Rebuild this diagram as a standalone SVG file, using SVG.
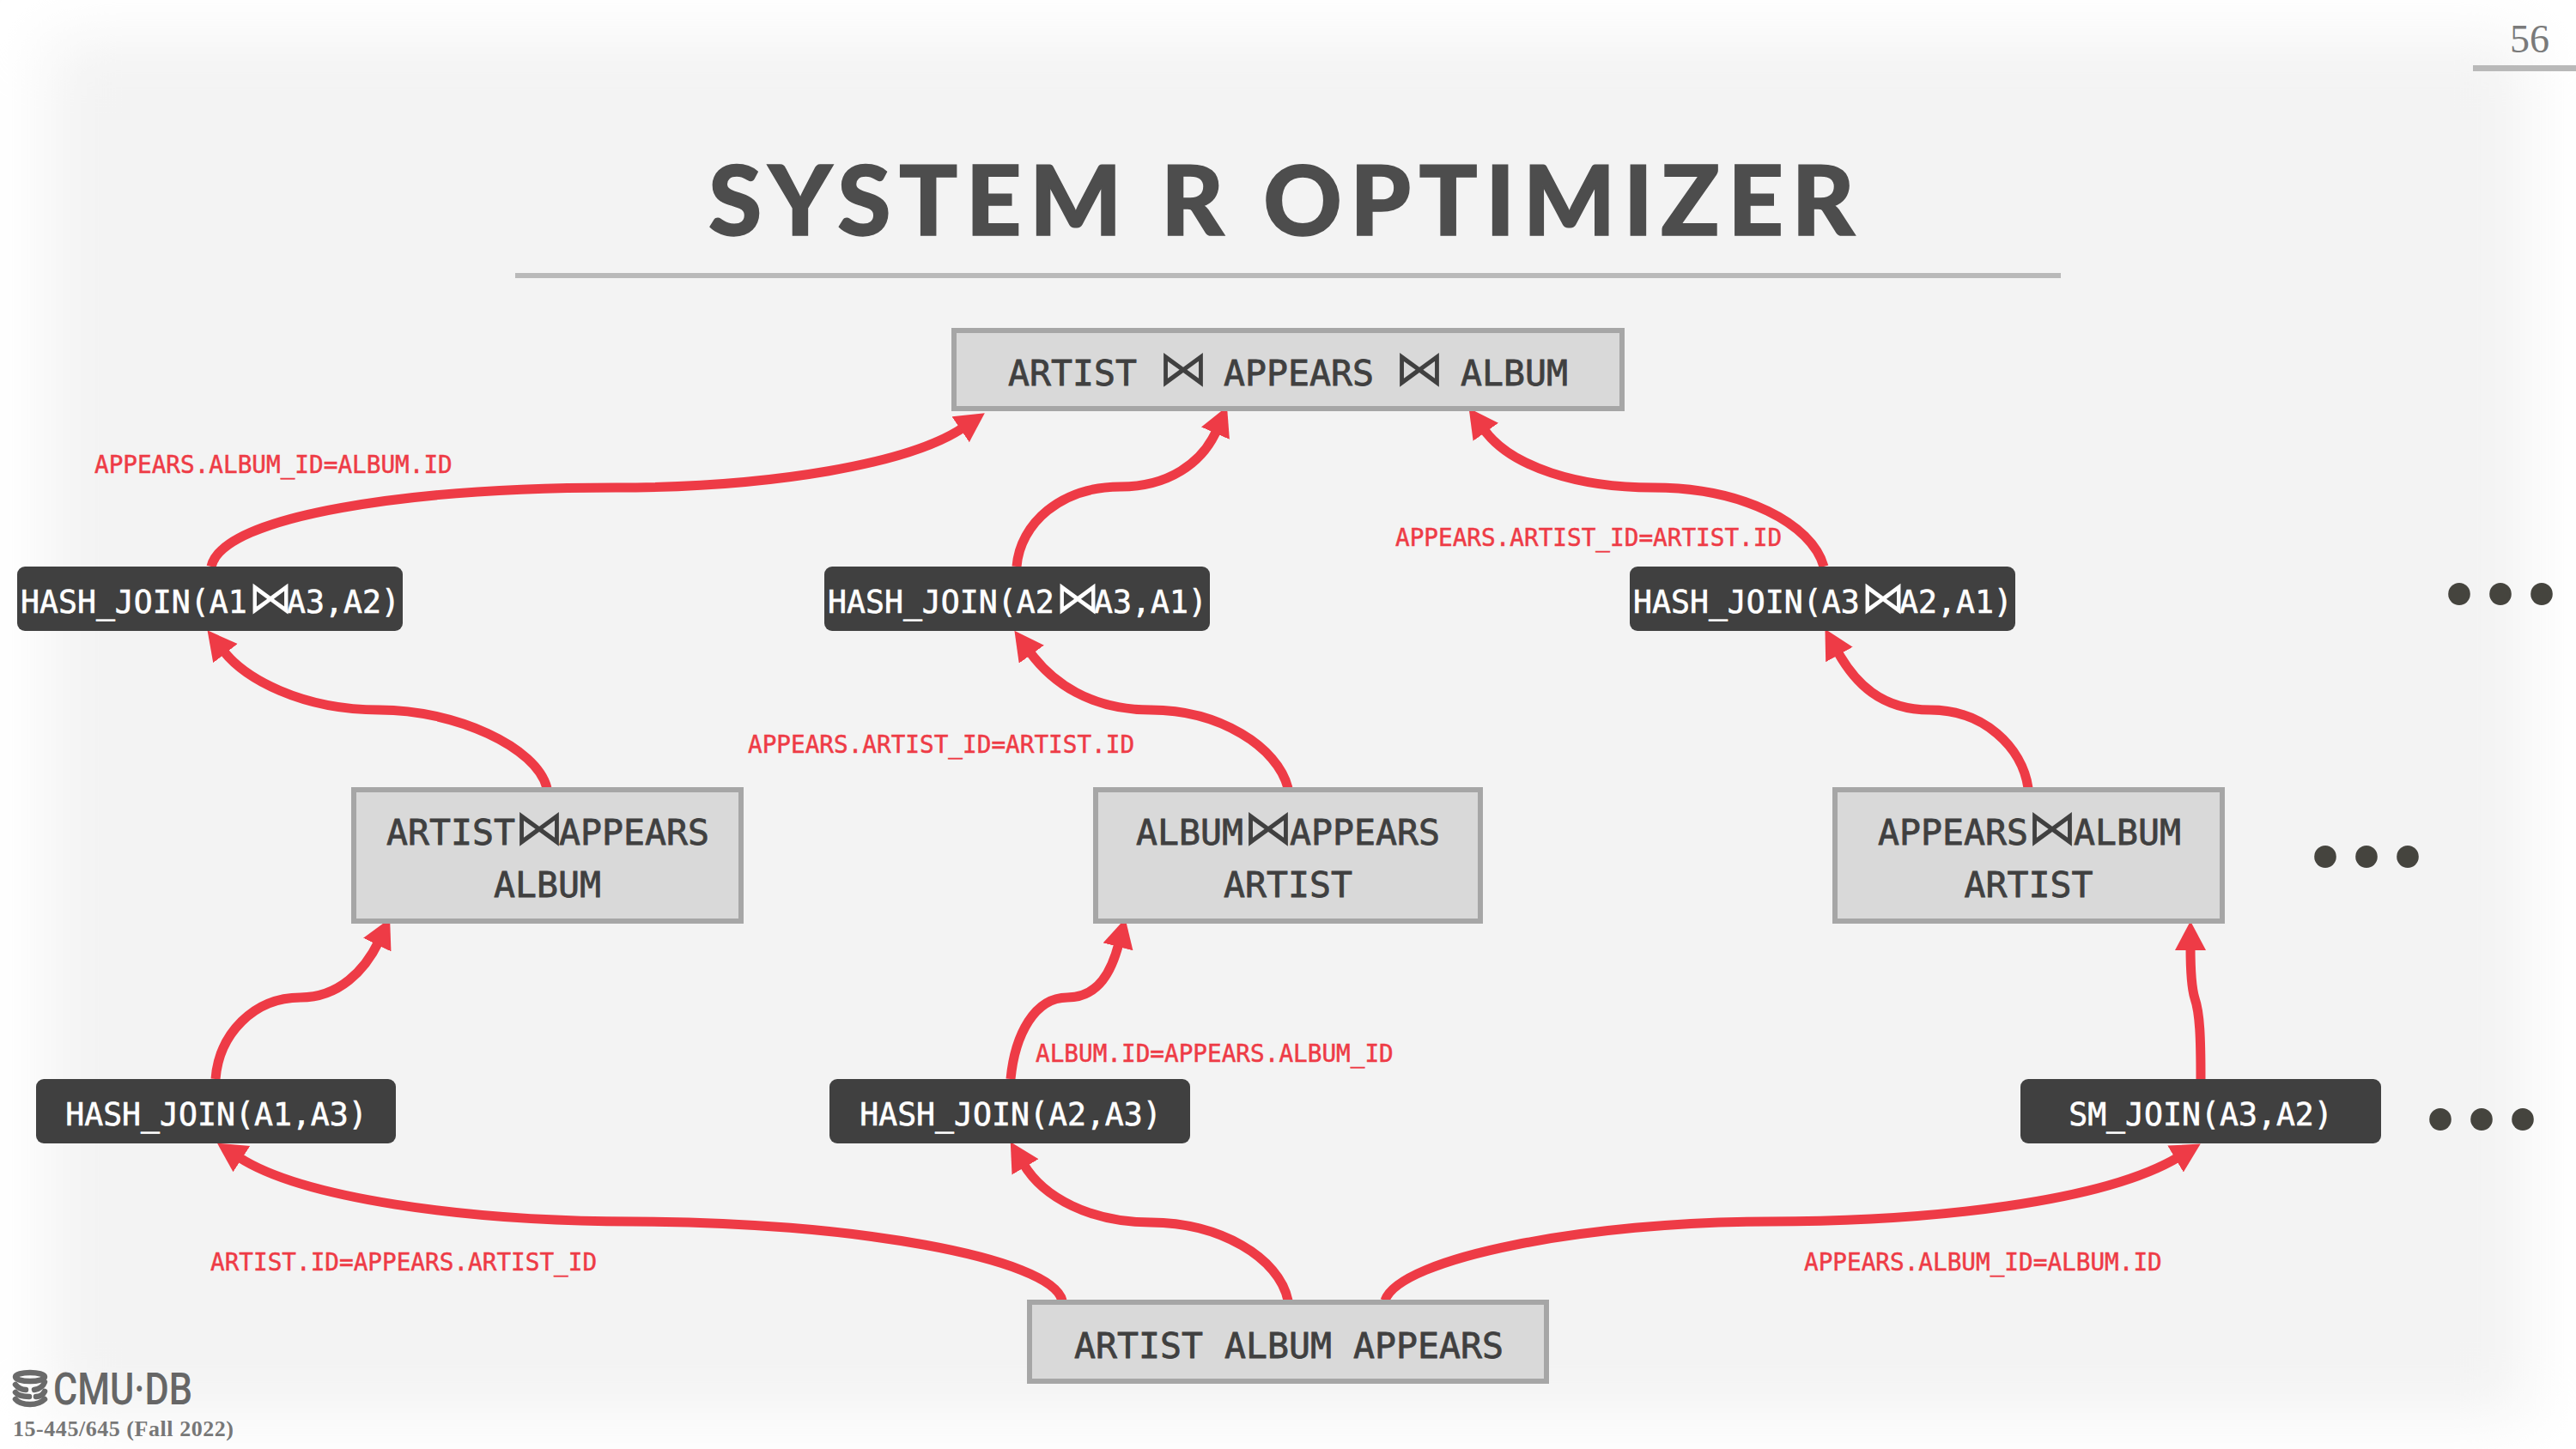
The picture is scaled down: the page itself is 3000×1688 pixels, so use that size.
<svg xmlns="http://www.w3.org/2000/svg" width="3000" height="1688" viewBox="0 0 3000 1688">
<style>
.box{fill:#d9d9d9;stroke:#a6a6a6;stroke-width:6}
.dark{fill:#404040}
.t{font-family:"DejaVu Sans Mono","Liberation Mono",monospace;font-size:41.5px;fill:#404040;stroke:#404040;stroke-width:.8}
.w{font-family:"DejaVu Sans Mono","Liberation Mono",monospace;font-size:36.5px;fill:#fff;stroke:#fff;stroke-width:.6}
.j{font-family:"DejaVu Sans","DejaVu Sans Mono",sans-serif;stroke-width:0}
.t .j{font-size:58px}
.w .j{font-size:52px}
.l{font-family:"DejaVu Sans Mono","Liberation Mono",monospace;font-size:27.7px;fill:#ee3b46;stroke:#ee3b46;stroke-width:.5}
.c{fill:none;stroke:#ee3b46;stroke-width:11;marker-end:url(#arrow)}
.m{text-anchor:middle}
.dot{fill:#45443e}
.rule{fill:#b9b9b9}
</style>
<defs>
<filter id="soft" x="-10%" y="-10%" width="120%" height="120%"><feGaussianBlur stdDeviation="36"/></filter>
<marker id="arrow" markerUnits="userSpaceOnUse" markerWidth="40" markerHeight="40" refX="4" refY="18" orient="auto"><path d="M0 0L34 18L0 36Z" fill="#ee3b46"/></marker>
</defs>
<rect id="page" width="3000" height="1688" fill="#fff"/>
<rect id="panel" x="55" y="45" width="2890" height="1605" fill="#f3f3f3" filter="url(#soft)"/>
<text id="page-number" x="2946" y="61" text-anchor="middle" font-family="Liberation Serif,serif" font-size="46" fill="#7a7a7a">56</text>
<rect class="rule" x="2880" y="76" width="120" height="7"/>
<text id="title" x="825" y="274" font-family="Lato,sans-serif" font-weight="900" font-size="113" fill="#4d4d4d" stroke="#4d4d4d" stroke-width="1.5" textLength="1335" lengthAdjust="spacing">SYSTEM R OPTIMIZER</text>
<rect class="rule" x="600" y="318" width="1800" height="6"/>

<g id="connectors">
<path class="c" d="M246 660C260 600 480 568 717 568C900 568 1060 540 1122 498"/>
<path class="c" d="M1184 660C1188 610 1235 567 1305 567C1360 567 1400 540 1417 501"/>
<path class="c" d="M2124 660C2110 610 2030 568 1925 568C1840 568 1760 545 1728 500"/>
<path class="c" d="M637 918C625 870 530 827 442 827C350 827 285 790 260 758"/>
<path class="c" d="M1500 918C1488 870 1420 827 1340 827C1270 827 1225 795 1199 759"/>
<path class="c" d="M2362 918C2355 870 2310 827 2248 827C2190 827 2160 795 2140 759"/>
<path class="c" d="M251 1257C255 1205 295 1162 350 1162C395 1162 425 1130 441 1097"/>
<path class="c" d="M1177 1257C1182 1205 1205 1162 1243 1162C1280 1162 1295 1130 1303 1099"/>
<path class="c" d="M2563 1257C2563 1210 2562 1180 2556 1163C2552 1150 2551 1125 2551 1103"/>
<path class="c" d="M1237 1515C1225 1465 990 1423 737 1423C540 1423 350 1395 278 1348"/>
<path class="c" d="M1500 1515C1490 1465 1420 1424 1340 1424C1270 1424 1215 1395 1192 1356"/>
<path class="c" d="M1613 1515C1630 1465 1850 1423 2060 1423C2250 1423 2450 1400 2537 1348"/>
</g>

<g id="node-top"><rect class="box" x="1111" y="385" width="778" height="91"/>
<text class="t" y="449"><tspan x="1174">ARTIST</tspan> <tspan class="j" x="1349">⋈</tspan> <tspan x="1425">APPEARS</tspan> <tspan class="j" x="1624">⋈</tspan> <tspan x="1701">ALBUM</tspan></text></g>

<g id="node-hj-a1a3-a2"><rect class="dark" x="20" y="660" width="449" height="75" rx="9"/>
<text class="w" y="713.5"><tspan x="24">HASH_JOIN(A1</tspan><tspan class="j" x="289">⋈</tspan><tspan x="334">A3,A2)</tspan></text></g>
<g id="node-hj-a2a3-a1"><rect class="dark" x="960" y="660" width="449" height="75" rx="9"/>
<text class="w" y="713.5"><tspan x="964">HASH_JOIN(A2</tspan><tspan class="j" x="1229">⋈</tspan><tspan x="1274">A3,A1)</tspan></text></g>
<g id="node-hj-a3a2-a1"><rect class="dark" x="1898" y="660" width="449" height="75" rx="9"/>
<text class="w" y="713.5"><tspan x="1902">HASH_JOIN(A3</tspan><tspan class="j" x="2167">⋈</tspan><tspan x="2212">A2,A1)</tspan></text></g>

<g id="node-artist-appears"><rect class="box" x="412" y="920" width="451" height="153"/>
<text class="t" y="984"><tspan x="450">ARTIST</tspan><tspan class="j" x="599">⋈</tspan><tspan x="651">APPEARS</tspan></text>
<text class="t m" x="637.5" y="1045">ALBUM</text></g>
<g id="node-album-appears"><rect class="box" x="1276" y="920" width="448" height="153"/>
<text class="t" y="984"><tspan x="1323">ALBUM</tspan><tspan class="j" x="1448">⋈</tspan><tspan x="1502">APPEARS</tspan></text>
<text class="t m" x="1500" y="1045">ARTIST</text></g>
<g id="node-appears-album"><rect class="box" x="2137" y="920" width="451" height="153"/>
<text class="t" y="984"><tspan x="2187">APPEARS</tspan><tspan class="j" x="2361">⋈</tspan><tspan x="2415">ALBUM</tspan></text>
<text class="t m" x="2362.5" y="1045">ARTIST</text></g>

<g id="node-hj-a1-a3"><rect class="dark" x="42" y="1257" width="419" height="75" rx="9"/>
<text class="w m" x="252" y="1311">HASH_JOIN(A1,A3)</text></g>
<g id="node-hj-a2-a3"><rect class="dark" x="966" y="1257" width="420" height="75" rx="9"/>
<text class="w m" x="1177" y="1311">HASH_JOIN(A2,A3)</text></g>
<g id="node-sm-a3-a2"><rect class="dark" x="2353" y="1257" width="420" height="75" rx="9"/>
<text class="w m" x="2563" y="1311">SM_JOIN(A3,A2)</text></g>

<g id="node-bottom"><rect class="box" x="1199" y="1517" width="602" height="92"/>
<text class="t" y="1582"><tspan x="1251">ARTIST</tspan> <tspan x="1426">ALBUM</tspan> <tspan x="1576">APPEARS</tspan></text></g>

<g id="labels">
<text class="l" x="110" y="551">APPEARS.ALBUM_ID=ALBUM.ID</text>
<text class="l" x="1625" y="636">APPEARS.ARTIST_ID=ARTIST.ID</text>
<text class="l" x="871" y="877">APPEARS.ARTIST_ID=ARTIST.ID</text>
<text class="l" x="1206" y="1237">ALBUM.ID=APPEARS.ALBUM_ID</text>
<text class="l" x="245" y="1480">ARTIST.ID=APPEARS.ARTIST_ID</text>
<text class="l" x="2101" y="1480">APPEARS.ALBUM_ID=ALBUM.ID</text>
</g>

<g id="ellipses-top"><ellipse class="dot" cx="2864" cy="692" rx="12.8" ry="13"/><ellipse class="dot" cx="2912" cy="692" rx="12.8" ry="13"/><ellipse class="dot" cx="2960" cy="692" rx="12.8" ry="13"/></g>
<g id="ellipses-mid"><ellipse class="dot" cx="2708" cy="998" rx="12.8" ry="13"/><ellipse class="dot" cx="2756" cy="998" rx="12.8" ry="13"/><ellipse class="dot" cx="2804" cy="998" rx="12.8" ry="13"/></g>
<g id="ellipses-bottom"><ellipse class="dot" cx="2842" cy="1304" rx="12.8" ry="13"/><ellipse class="dot" cx="2890" cy="1304" rx="12.8" ry="13"/><ellipse class="dot" cx="2938" cy="1304" rx="12.8" ry="13"/></g>

<g id="footer">
<g fill="none" stroke="#6a6a6a" stroke-width="6.5" stroke-linecap="round">
<ellipse cx="35" cy="1604" rx="17" ry="5"/>
<path d="M18 1613C22 1618 26 1619 30 1619M52 1610C50 1616 46 1618 40 1619"/>
<path d="M18 1622C22 1627 30 1627 34 1627M42 1627C46 1627 50 1625 52 1621"/>
<path d="M18 1630C22 1635 30 1636 35 1636C42 1636 48 1634 52 1630"/>
</g>
<text x="62" y="1636" font-family="Roboto,sans-serif" font-weight="500" font-size="52" fill="#666" textLength="162" lengthAdjust="spacingAndGlyphs">CMU·DB</text>
<text x="15" y="1673" font-family="Liberation Serif,serif" font-weight="700" font-size="26" fill="#777" textLength="257" lengthAdjust="spacing">15-445/645 (Fall 2022)</text>
</g>
</svg>
